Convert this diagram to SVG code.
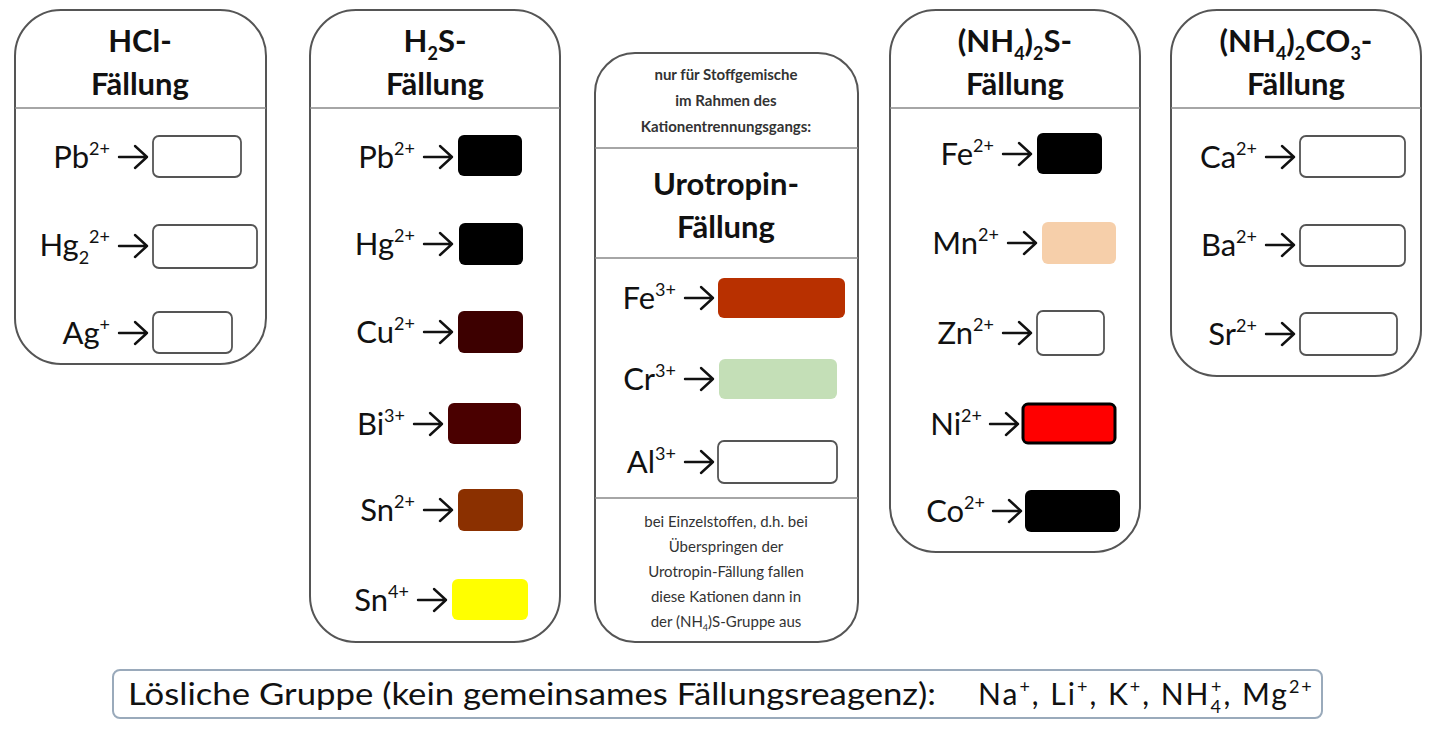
<svg xmlns="http://www.w3.org/2000/svg" width="1440" height="737" viewBox="0 0 1440 737">
<style>
text{font-family:Lato,"Open Sans","Liberation Sans",sans-serif;fill:#111}
.pan{fill:#fff;stroke:#555;stroke-width:2}
.div{stroke:#888;stroke-width:1.5}
.h{font-size:31px;font-weight:bold;text-anchor:middle}
.ion{font-size:31px;text-anchor:end}
.s{font-size:18px}
.sm{font-size:15px;text-anchor:middle;fill:#333}
.smb{font-size:15px;text-anchor:middle;font-weight:bold;fill:#333}
.ar{fill:none;stroke:#111;stroke-width:2.4;stroke-linecap:round;stroke-linejoin:round}
.b{stroke:#555;stroke-width:1.8}
</style>
<defs><path id="a" class="ar" d="M0,0 H28 M16,-11 L28,0 L16,11"/></defs>
<rect width="1440" height="737" fill="#fff"/>
<g id="hcl">
<rect class="pan" x="15" y="10" width="251" height="354" rx="46"/>
<line class="div" x1="15" y1="108" x2="266" y2="108"/>
<text class="h" x="140" y="52">HCl-</text><text class="h" x="140" y="95">Fällung</text>
<text class="ion" x="110" y="168">Pb<tspan class="s" dy="-13">2+</tspan></text><use href="#a" x="119" y="157"/><rect class="b" x="153" y="136" width="88" height="41" rx="6" fill="#fff"/>
<text class="ion" x="110" y="256">Hg<tspan class="s" dy="8">2</tspan><tspan class="s" dy="-21">2+</tspan></text><use href="#a" x="119" y="246"/><rect class="b" x="153" y="225" width="104" height="43" rx="6" fill="#fff"/>
<text class="ion" x="110" y="344">Ag<tspan class="s" dy="-13">+</tspan></text><use href="#a" x="119" y="333"/><rect class="b" x="153" y="312" width="79" height="41" rx="6" fill="#fff"/>
</g>
<g id="h2s">
<rect class="pan" x="310" y="10" width="250" height="632" rx="46"/>
<line class="div" x1="310" y1="108" x2="560" y2="108"/>
<text class="h" x="435" y="52">H<tspan class="s" dy="8">2</tspan><tspan dy="-8">S-</tspan></text><text class="h" x="435" y="95">Fällung</text>
<text class="ion" x="415" y="168">Pb<tspan class="s" dy="-13">2+</tspan></text><use href="#a" x="424" y="157"/><rect x="458" y="135" width="64" height="41" rx="6" fill="#000"/>
<text class="ion" x="415" y="255">Hg<tspan class="s" dy="-13">2+</tspan></text><use href="#a" x="424" y="244"/><rect x="459" y="223" width="64" height="42" rx="6" fill="#000"/>
<text class="ion" x="415" y="343">Cu<tspan class="s" dy="-13">2+</tspan></text><use href="#a" x="424" y="332"/><rect x="458" y="311" width="65" height="42" rx="6" fill="#3d0000"/>
<text class="ion" x="405" y="435">Bi<tspan class="s" dy="-13">3+</tspan></text><use href="#a" x="414" y="424"/><rect x="448" y="403" width="73" height="41" rx="6" fill="#4a0000"/>
<text class="ion" x="415" y="521">Sn<tspan class="s" dy="-13">2+</tspan></text><use href="#a" x="424" y="510"/><rect x="458" y="489" width="65" height="42" rx="6" fill="#8b3000"/>
<text class="ion" x="409" y="611">Sn<tspan class="s" dy="-13">4+</tspan></text><use href="#a" x="418" y="600"/><rect x="452" y="579" width="76" height="41" rx="6" fill="#ffff00"/>
</g>
<g id="urotropin">
<rect class="pan" x="595" y="53" width="263" height="589" rx="40"/>
<line class="div" x1="595" y1="148" x2="858" y2="148"/>
<line class="div" x1="595" y1="258" x2="858" y2="258"/>
<line class="div" x1="595" y1="498" x2="858" y2="498"/>
<text class="smb" x="726" y="80">nur für Stoffgemische</text>
<text class="smb" x="726" y="106">im Rahmen des</text>
<text class="smb" x="726" y="132">Kationentrennungsgangs:</text>
<text class="h" x="726" y="195">Urotropin-</text><text class="h" x="726" y="238">Fällung</text>
<text class="ion" x="676" y="309">Fe<tspan class="s" dy="-13">3+</tspan></text><use href="#a" x="685" y="298"/><rect x="718" y="278" width="127" height="40" rx="6" fill="#b83000"/>
<text class="ion" x="676" y="390">Cr<tspan class="s" dy="-13">3+</tspan></text><use href="#a" x="685" y="379"/><rect x="719" y="359" width="118" height="40" rx="6" fill="#c4dfb7"/>
<text class="ion" x="676" y="473">Al<tspan class="s" dy="-13">3+</tspan></text><use href="#a" x="685" y="462"/><rect class="b" x="718" y="441" width="119" height="42" rx="6" fill="#fff"/>
<text class="sm" x="726" y="527">bei Einzelstoffen, d.h. bei</text>
<text class="sm" x="726" y="552">Überspringen der</text>
<text class="sm" x="726" y="577">Urotropin-Fällung fallen</text>
<text class="sm" x="726" y="602">diese Kationen dann in</text>
<text class="sm" x="726" y="627">der (NH<tspan font-size="9" dy="4">4</tspan><tspan dy="-4">)S-Gruppe aus</tspan></text>
</g>
<g id="nh4s">
<rect class="pan" x="890" y="10" width="250" height="542" rx="46"/>
<line class="div" x1="890" y1="108" x2="1140" y2="108"/>
<text class="h" x="1015" y="52">(NH<tspan class="s" dy="8">4</tspan><tspan dy="-8">)</tspan><tspan class="s" dy="8">2</tspan><tspan dy="-8">S-</tspan></text><text class="h" x="1015" y="95">Fällung</text>
<text class="ion" x="994" y="165">Fe<tspan class="s" dy="-13">2+</tspan></text><use href="#a" x="1003" y="154"/><rect x="1037" y="133" width="65" height="41" rx="6" fill="#000"/>
<text class="ion" x="999" y="254">Mn<tspan class="s" dy="-13">2+</tspan></text><use href="#a" x="1008" y="243"/><rect x="1042" y="222" width="74" height="42" rx="6" fill="#f6cfaa"/>
<text class="ion" x="994" y="344">Zn<tspan class="s" dy="-13">2+</tspan></text><use href="#a" x="1003" y="333"/><rect class="b" x="1037" y="311" width="67" height="44" rx="6" fill="#fff"/>
<text class="ion" x="982" y="435">Ni<tspan class="s" dy="-13">2+</tspan></text><use href="#a" x="990" y="424"/><rect x="1023" y="404" width="92" height="39" rx="5" fill="#ff0000" stroke="#000" stroke-width="3"/>
<text class="ion" x="985" y="522">Co<tspan class="s" dy="-13">2+</tspan></text><use href="#a" x="993" y="511"/><rect x="1025" y="490" width="95" height="42" rx="6" fill="#000"/>
</g>
<g id="nh4co3">
<rect class="pan" x="1171" y="10" width="250" height="366" rx="46"/>
<line class="div" x1="1171" y1="108" x2="1421" y2="108"/>
<text class="h" x="1296" y="52">(NH<tspan class="s" dy="8">4</tspan><tspan dy="-8">)</tspan><tspan class="s" dy="8">2</tspan><tspan dy="-8">CO</tspan><tspan class="s" dy="8">3</tspan><tspan dy="-8">-</tspan></text><text class="h" x="1296" y="95">Fällung</text>
<text class="ion" x="1257" y="168">Ca<tspan class="s" dy="-13">2+</tspan></text><use href="#a" x="1266" y="157"/><rect class="b" x="1300" y="136" width="105" height="41" rx="6" fill="#fff"/>
<text class="ion" x="1257" y="256">Ba<tspan class="s" dy="-13">2+</tspan></text><use href="#a" x="1266" y="245"/><rect class="b" x="1300" y="225" width="105" height="41" rx="6" fill="#fff"/>
<text class="ion" x="1257" y="345">Sr<tspan class="s" dy="-13">2+</tspan></text><use href="#a" x="1266" y="334"/><rect class="b" x="1300" y="313" width="97" height="42" rx="6" fill="#fff"/>
</g>
<g id="loeslich">
<rect x="113" y="670" width="1209" height="48" rx="7" fill="#fff" stroke="#9aaabb" stroke-width="2"/>
<text x="128" y="705" font-size="30" textLength="808" lengthAdjust="spacingAndGlyphs">Lösliche Gruppe (kein gemeinsames Fällungsreagenz):</text>
<text x="978" y="705" font-size="30" letter-spacing="2">Na<tspan class="s" dy="-12">+</tspan><tspan dy="12">, Li</tspan><tspan class="s" dy="-12">+</tspan><tspan dy="12">, K</tspan><tspan class="s" dy="-12">+</tspan><tspan dy="12">, NH</tspan><tspan class="s" dy="8">4</tspan><tspan class="s" dx="-12" dy="-20">+</tspan><tspan dy="12">, Mg</tspan><tspan class="s" dy="-12">2+</tspan></text>
</g>
<g id="connectors"/>
</svg>
